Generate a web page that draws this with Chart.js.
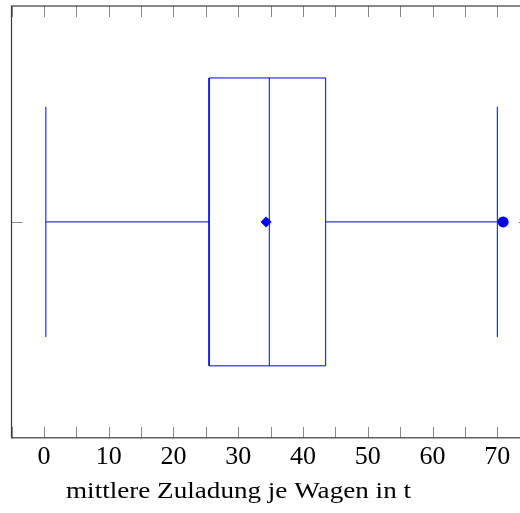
<!DOCTYPE html>
<html lang="de">
<head>
    <meta charset="UTF-8">
    <title>Zuladung</title>
    <style>
        html, body { margin: 0; padding: 0; background: #fff; overflow: hidden; }
        #wrap { width: 540px; height: 513px; }
    </style>
</head>
<body>
    <div id="wrap"><canvas id="chart" width="540" height="513"></canvas></div>

    <script src="https://cdn.jsdelivr.net/npm/chart.js"></script>
    <script>
        // Kennwerte des Boxplots (in t)
        const whiskerLow = 0.3;
        const quartil1 = 25.5;
        const median = 34.8;
        const quartil3 = 43.5;
        const whiskerHigh = 70.0;
        const mittelwert = 34.3;
        const ausreisser = [70.9];
        const xTicks = [0, 10, 20, 30, 40, 50, 60, 70];
        const xLabel = 'mittlere Zuladung je Wagen in t';

        // Box liegt bei y = 1, Boxbreite 0.8, Whiskerbreite 0.64
        const pos = 1, boxHalf = 0.4, capHalf = 0.32;
        const blau = '#0000ff';
        const schrift = "'Liberation Serif', 'DejaVu Serif', serif";

        function linie(punkte) {
            return {
                data: punkte, showLine: true, borderColor: blau, borderWidth: 1,
                pointRadius: 0, fill: false
            };
        }

        const datasets = [
            linie([{x: quartil1, y: pos - boxHalf}, {x: quartil3, y: pos - boxHalf}, {x: quartil3, y: pos + boxHalf},
                   {x: quartil1, y: pos + boxHalf}, {x: quartil1, y: pos - boxHalf}]),
            linie([{x: median, y: pos - boxHalf}, {x: median, y: pos + boxHalf}]),
            linie([{x: whiskerLow, y: pos}, {x: quartil1, y: pos}]),
            linie([{x: quartil3, y: pos}, {x: whiskerHigh, y: pos}]),
            linie([{x: whiskerLow, y: pos - capHalf}, {x: whiskerLow, y: pos + capHalf}]),
            linie([{x: whiskerHigh, y: pos - capHalf}, {x: whiskerHigh, y: pos + capHalf}]),
            {
                data: [{x: mittelwert, y: pos}], pointStyle: 'rectRot', pointRadius: 5.5,
                backgroundColor: blau, borderColor: blau, borderWidth: 0
            },
            {
                data: ausreisser.map(v => ({x: v, y: pos})), pointStyle: 'circle', pointRadius: 5.5,
                backgroundColor: '#0000e0', borderColor: '#0000e0', borderWidth: 0
            }
        ];

        // Rahmen, nach innen zeigende Ticks und Achsenbeschriftung
        const rahmenPlugin = {
            id: 'rahmen',
            afterDraw(chart) {
                const ctx = chart.ctx;
                const a = chart.chartArea;
                const xs = chart.scales.x, ys = chart.scales.y;
                const len = 11;
                ctx.save();
                ctx.strokeStyle = '#8a8a8a';
                ctx.lineWidth = 1;
                ctx.beginPath();
                xs.ticks.forEach(t => {
                    const px = Math.round(xs.getPixelForValue(t.value)) + 0.5;
                    ctx.moveTo(px, a.bottom); ctx.lineTo(px, a.bottom - len);
                    ctx.moveTo(px, a.top); ctx.lineTo(px, a.top + len);
                });
                const py = Math.round(ys.getPixelForValue(pos)) + 0.5;
                ctx.moveTo(a.left, py); ctx.lineTo(a.left + len, py);
                ctx.moveTo(a.right, py); ctx.lineTo(a.right - len, py);
                ctx.stroke();

                ctx.strokeStyle = '#3a3a3a';
                ctx.lineWidth = 1.2;
                ctx.strokeRect(a.left, a.top, a.right - a.left, a.bottom - a.top);

                // Achsentitel, etwas breiter gezogen (Computer-Modern-Laufweite)
                ctx.fillStyle = '#000';
                ctx.font = '24px ' + schrift;
                ctx.textAlign = 'left';
                ctx.textBaseline = 'alphabetic';
                const w = ctx.measureText(xLabel).width;
                const ziel = 345;
                ctx.translate(66, 498);
                ctx.scale(ziel / w, 1);
                ctx.fillText(xLabel, 0, 0);
                ctx.restore();
            }
        };

        new Chart(document.getElementById('chart'), {
            type: 'scatter',
            data: { datasets: datasets },
            options: {
                responsive: false,
                animation: false,
                layout: { padding: { left: 11.5, right: 10.3, top: 6, bottom: 36 } },
                plugins: { legend: { display: false }, tooltip: { enabled: false } },
                scales: {
                    x: {
                        type: 'linear', min: -5, max: 75,
                        grid: { display: false, drawTicks: false },
                        border: { display: false },
                        afterBuildTicks: s => { s.ticks = []; for (let v = -5; v <= 75; v += 5) s.ticks.push({value: v}); },
                        ticks: {
                            autoSkip: false, maxRotation: 0, padding: 4, color: '#000',
                            font: { family: schrift, size: 26 },
                            callback: v => xTicks.includes(v) ? String(v) : ''
                        }
                    },
                    y: {
                        type: 'linear', min: 0.4, max: 1.6, display: false
                    }
                }
            },
            plugins: [rahmenPlugin]
        });
    </script>
</body>
</html>
